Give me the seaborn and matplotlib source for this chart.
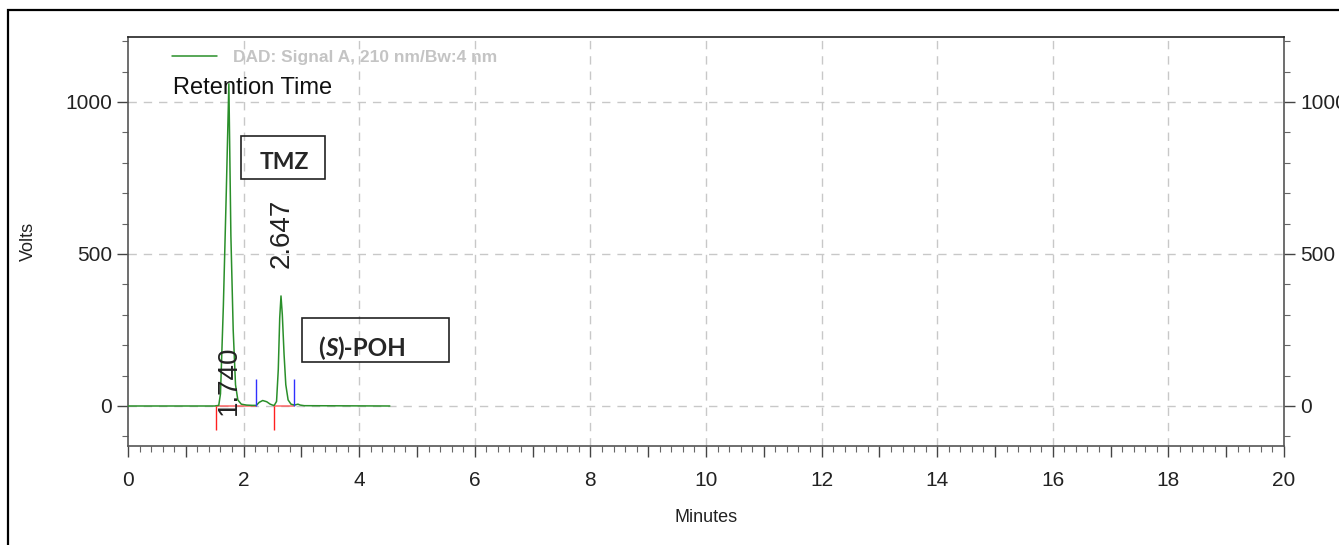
import matplotlib.pyplot as plt
import matplotlib.patches as patches
from matplotlib.ticker import MultipleLocator, FuncFormatter
import seaborn as sns
import pandas as pd

# Chromatogram trace (minutes, volts)
time_min = [0.0, 1.50, 1.57, 1.60, 1.65, 1.70, 1.745, 1.78, 1.82, 1.86, 1.90, 1.96, 2.05,
            2.15, 2.22, 2.27, 2.33, 2.40, 2.46, 2.50, 2.53, 2.57, 2.60, 2.625, 2.647,
            2.67, 2.70, 2.73, 2.77, 2.82, 2.88, 2.94, 2.98, 3.05, 4.53]
signal_v = [0, 0, 2, 40, 330, 700, 1060, 560, 250, 70, 20, 6, 3,
            2, 2, 12, 18, 14, 6, 3, 2, 15, 120, 290, 362,
            300, 170, 70, 20, 6, 3, 6, 3, 1, 0]

# Integration events
peak_start = [1.52, 2.53]
peak_end = [2.22, 2.87]
peak_rt = ["1.740", "2.647"]
peak_rt_x = [1.75, 2.66]
peak_rt_y = [-30, 454]

legend_label = "DAD: Signal A, 210 nm/Bw:4 nm"
compounds = ["TMZ", "(S)-POH"]

df = pd.DataFrame({"Minutes": time_min, "Volts": signal_v})

sns.set_style("white")
plt.rcParams["font.family"] = ["Liberation Sans", "DejaVu Sans"]
box_font = ["Lato", "DejaVu Sans"]

fig = plt.figure(figsize=(13.39, 5.45), dpi=100)
ax = fig.add_axes([128 / 1339, 1 - 446 / 545, 1156 / 1339, 409 / 545])

# outer frame of the figure (cut at right/bottom)
fig.add_artist(patches.Rectangle((8 / 1339, -0.2), 1.2, 1.2 - 10 / 545,
                                 transform=fig.transFigure, fill=False,
                                 edgecolor="black", lw=1.6))

# grid (even minutes and 0/500/1000)
for gx in range(2, 20, 2):
    ax.axvline(gx, color="#c8c8c8", lw=1, ls=(0, (6, 5)), zorder=0)
for gy in [0, 500, 1000]:
    ax.axhline(gy, color="#c8c8c8", lw=1, ls=(0, (6, 5)), zorder=0)

sns.lineplot(data=df, x="Minutes", y="Volts", ax=ax, color="#2a8f2a", lw=1.1,
             label=legend_label, zorder=3)

# integration baselines and markers
for s, e in zip(peak_start, peak_end):
    ax.plot([s, e], [0, 0], color="#ff5050", lw=1.2, alpha=0.8, zorder=2)
ax.vlines(peak_start, -80, 0, color="#ff2020", lw=1, zorder=4)
ax.vlines(peak_end, 0, 90, color="#3030ff", lw=1, zorder=4)

# retention time labels
for x, y, t in zip(peak_rt_x, peak_rt_y, peak_rt):
    ax.text(x, y, t, rotation=90, ha="center", va="bottom", fontsize=20, color="#222222", zorder=5)

# compound boxes
ax.add_patch(patches.Rectangle((1.955, 747), 1.455, 141, fill=False, edgecolor="#222222", lw=1.2, zorder=6))
ax.text(2.70, 800, compounds[0], ha="center", va="center", fontsize=16.5,
        fontweight="bold", family=box_font, zorder=6)
ax.add_patch(patches.Rectangle((3.01, 145), 2.54, 144, fill=False, edgecolor="#222222", lw=1.2, zorder=6))
t1 = ax.text(3.29, 190, "(", ha="left", va="center", fontsize=17.5, fontweight="bold",
             family=box_font, zorder=6)
t2 = ax.annotate("S", xy=(1, 0), xycoords=t1, ha="left", va="bottom", fontsize=17.5,
                 fontweight="bold", fontstyle="italic", family=box_font, zorder=6)
ax.annotate(")-POH", xy=(1, 0), xycoords=t2, ha="left", va="bottom", fontsize=17.5,
            fontweight="bold", family=box_font, zorder=6)

ax.text(0.039, 0.876, "Retention Time", transform=ax.transAxes, fontsize=17,
        color="#111111", va="center", ha="left")

leg = ax.legend(loc="upper left", bbox_to_anchor=(0.038, 0.968), frameon=False,
                borderaxespad=0, borderpad=0, handlelength=2.6, handletextpad=0.9,
                prop={"size": 12.5, "weight": "bold"})
for txt in leg.get_texts():
    txt.set_color("#c4c4c4")

ax.set_xlim(0, 20)
ax.set_ylim(-131.6, 1213.8)
ax.xaxis.set_major_locator(MultipleLocator(1))
ax.xaxis.set_minor_locator(MultipleLocator(0.2))
ax.xaxis.set_major_formatter(FuncFormatter(lambda v, p: f"{int(v)}" if int(round(v)) % 2 == 0 else ""))
ax.yaxis.set_major_locator(MultipleLocator(500))
ax.yaxis.set_minor_locator(MultipleLocator(100))

ax.tick_params(axis="both", which="major", labelsize=15, colors="#444444", labelcolor="#222222",
               length=8, width=1)
ax.tick_params(axis="both", which="minor", colors="#666666", length=4, width=0.8)
ax.tick_params(axis="y", which="both", left=True, right=True, labelright=True, direction="out")
ax.tick_params(axis="x", which="both", bottom=True, top=False, direction="out")
ax.tick_params(axis="x", which="major", pad=10)

for side in ["left", "right", "bottom", "top"]:
    ax.spines[side].set_visible(True)
    ax.spines[side].set_color("#555555")
    ax.spines[side].set_linewidth(1.2)
ax.spines["top"].set_color("#222222")

ax.set_xlabel("Minutes", fontsize=13, labelpad=14, color="#222222")
ax.set_ylabel("Volts", fontsize=13, labelpad=20, color="#222222")

fig.savefig("out.png", dpi=100)
